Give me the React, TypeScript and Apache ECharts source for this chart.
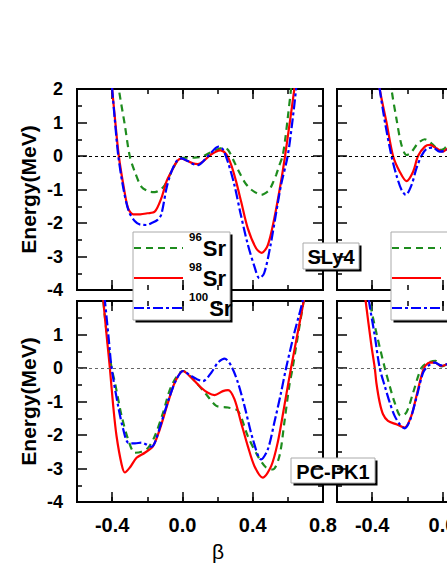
import { useEffect, useRef } from "react";
import * as echarts from "echarts";

const FONT = 'Arial, "Liberation Sans", Helvetica, sans-serif';

// [beta, energy], one list per nucleus and panel
const sly4Left96 = [[-0.375, 2.6], [-0.362, 2.0], [-0.328, 0.93], [-0.30, 0.0], [-0.271, -0.47], [-0.233, -0.92], [-0.19, -1.06], [-0.157, -1.08], [-0.125, -1.0], [-0.10, -0.87], [-0.063, -0.47], [-0.035, -0.2], [-0.01, -0.06], [0.03, -0.05], [0.07, -0.05], [0.11, -0.02], [0.15, 0.08], [0.19, 0.18], [0.23, 0.24], [0.26, 0.18], [0.296, -0.19], [0.325, -0.5], [0.353, -0.77], [0.38, -0.95], [0.41, -1.07], [0.448, -1.16], [0.475, -1.1], [0.495, -1.01], [0.515, -0.8], [0.533, -0.57], [0.55, -0.3], [0.57, 0.0], [0.585, 0.5], [0.599, 1.12], [0.618, 2.0], [0.63, 2.7]];
const sly4Left98 = [[-0.41, 2.6], [-0.40, 2.0], [-0.384, 1.12], [-0.362, 0.0], [-0.332, -0.99], [-0.309, -1.56], [-0.28, -1.74], [-0.24, -1.74], [-0.20, -1.71], [-0.157, -1.66], [-0.12, -1.26], [-0.09, -0.75], [-0.063, -0.47], [-0.03, -0.15], [-0.006, -0.08], [0.03, -0.15], [0.06, -0.22], [0.088, -0.24], [0.12, -0.15], [0.16, 0.03], [0.19, 0.13], [0.217, 0.17], [0.25, 0.05], [0.278, -0.27], [0.305, -0.75], [0.334, -1.36], [0.372, -2.16], [0.42, -2.76], [0.452, -2.89], [0.486, -2.66], [0.523, -1.86], [0.561, -0.77], [0.584, 0.0], [0.609, 0.93], [0.637, 2.0], [0.65, 2.6]];
const sly4Left100 = [[-0.41, 2.6], [-0.40, 2.0], [-0.385, 1.1], [-0.365, 0.0], [-0.335, -1.0], [-0.305, -1.65], [-0.27, -1.95], [-0.24, -2.05], [-0.205, -2.06], [-0.175, -2.0], [-0.14, -1.9], [-0.12, -1.74], [-0.09, -0.95], [-0.063, -0.47], [-0.03, -0.13], [-0.006, -0.07], [0.03, -0.15], [0.06, -0.24], [0.09, -0.27], [0.12, -0.15], [0.16, 0.08], [0.19, 0.24], [0.206, 0.28], [0.23, 0.2], [0.26, -0.2], [0.296, -0.87], [0.33, -1.7], [0.37, -2.6], [0.41, -3.3], [0.438, -3.65], [0.465, -3.5], [0.50, -2.7], [0.53, -1.8], [0.561, -0.87], [0.599, 0.0], [0.625, 1.0], [0.647, 2.0], [0.66, 2.6]];

const sly4Right96 = [[-0.30, 2.6], [-0.29, 2.0], [-0.262, 1.12], [-0.233, 0.33], [-0.205, 0.03], [-0.185, 0.07], [-0.167, 0.18], [-0.139, 0.38], [-0.10, 0.5], [-0.063, 0.38], [-0.016, 0.18], [0.005, 0.2], [0.024, 0.28], [0.06, 0.35], [0.1, 0.3]];
const sly4Right98 = [[-0.37, 2.6], [-0.357, 2.0], [-0.319, 1.02], [-0.281, 0.0], [-0.243, -0.47], [-0.205, -0.75], [-0.167, -0.47], [-0.139, 0.0], [-0.10, 0.28], [-0.072, 0.33], [-0.034, 0.23], [0.003, 0.13], [0.024, 0.2], [0.06, 0.3], [0.1, 0.28]];
const sly4Right100 = [[-0.37, 2.6], [-0.357, 2.0], [-0.325, 0.95], [-0.29, 0.0], [-0.262, -0.57], [-0.233, -1.01], [-0.209, -1.16], [-0.176, -0.87], [-0.148, -0.37], [-0.12, 0.0], [-0.091, 0.21], [-0.054, 0.25], [-0.016, 0.13], [0.024, 0.17], [0.06, 0.27], [0.1, 0.27]];

const pcLeft96 = [[-0.46, 2.7], [-0.45, 2.0], [-0.428, 0.9], [-0.403, 0.0], [-0.384, -0.44], [-0.346, -1.43], [-0.309, -2.13], [-0.271, -2.53], [-0.233, -2.5], [-0.195, -2.38], [-0.157, -2.03], [-0.11, -1.33], [-0.063, -0.54], [0.003, -0.09], [0.07, -0.39], [0.136, -0.79], [0.193, -1.13], [0.259, -1.18], [0.316, -1.28], [0.372, -2.03], [0.429, -2.63], [0.476, -2.97], [0.514, -3.03], [0.552, -2.63], [0.58, -1.63], [0.608, -0.54], [0.627, 0.0], [0.656, 0.93], [0.69, 2.0], [0.70, 2.4]];
const pcLeft98 = [[-0.46, 2.7], [-0.45, 2.0], [-0.43, 0.9], [-0.413, 0.0], [-0.394, -1.13], [-0.375, -2.03], [-0.346, -2.88], [-0.328, -3.12], [-0.299, -2.97], [-0.261, -2.68], [-0.214, -2.53], [-0.167, -2.33], [-0.129, -1.83], [-0.082, -1.03], [-0.044, -0.44], [0.003, -0.09], [0.051, -0.29], [0.107, -0.59], [0.145, -0.74], [0.183, -0.81], [0.23, -0.69], [0.26, -0.66], [0.296, -0.93], [0.334, -1.63], [0.372, -2.33], [0.41, -2.93], [0.457, -3.27], [0.505, -2.93], [0.542, -2.23], [0.58, -1.13], [0.618, 0.0], [0.656, 1.05], [0.69, 2.0], [0.70, 2.4]];
const pcLeft100 = [[-0.455, 2.7], [-0.441, 2.0], [-0.42, 0.9], [-0.403, 0.0], [-0.366, -1.13], [-0.337, -1.83], [-0.309, -2.23], [-0.27, -2.25], [-0.233, -2.23], [-0.176, -2.35], [-0.157, -2.23], [-0.12, -1.63], [-0.072, -0.84], [-0.034, -0.34], [0.003, -0.09], [0.05, -0.24], [0.085, -0.34], [0.117, -0.39], [0.164, -0.14], [0.202, 0.16], [0.24, 0.28], [0.278, 0.06], [0.316, -0.44], [0.353, -1.13], [0.401, -2.13], [0.448, -2.73], [0.486, -2.43], [0.523, -1.63], [0.561, -0.74], [0.59, 0.0], [0.637, 1.05], [0.684, 2.0], [0.695, 2.4]];

const pcRight96 = [[-0.425, 2.6], [-0.414, 2.0], [-0.376, 1.05], [-0.328, 0.0], [-0.30, -0.54], [-0.272, -1.03], [-0.237, -1.43], [-0.205, -1.33], [-0.167, -0.74], [-0.12, 0.0], [-0.082, 0.16], [-0.038, 0.21], [-0.006, 0.05], [0.024, 0.11], [0.06, 0.2], [0.1, 0.2]];
const pcRight98 = [[-0.45, 2.6], [-0.437, 2.0], [-0.404, 0.66], [-0.385, 0.0], [-0.376, -0.44], [-0.357, -1.03], [-0.338, -1.38], [-0.31, -1.58], [-0.262, -1.68], [-0.215, -1.78], [-0.177, -1.43], [-0.148, -0.84], [-0.105, 0.0], [-0.072, 0.16], [-0.044, 0.16], [-0.006, 0.06], [0.024, 0.11], [0.06, 0.2], [0.1, 0.2]];
const pcRight100 = [[-0.43, 2.6], [-0.418, 2.0], [-0.385, 0.96], [-0.357, 0.0], [-0.328, -0.54], [-0.30, -1.03], [-0.272, -1.43], [-0.243, -1.68], [-0.215, -1.8], [-0.186, -1.58], [-0.148, -0.89], [-0.11, -0.14], [-0.082, 0.06], [-0.044, 0.16], [-0.006, 0.08], [0.024, 0.11], [0.06, 0.2], [0.1, 0.2]];

const nuclei = ["96", "98", "100"];
const colors = ["#1e8c1e", "#ff0000", "#0000ff"];
const dashes: (number[] | "solid")[] = [[7, 5], "solid", [10, 3, 3, 3]];

const panels = [
  { curves: [sly4Left96, sly4Left98, sly4Left100], zero: "#000" },
  { curves: [sly4Right96, sly4Right98, sly4Right100], zero: "#000" },
  { curves: [pcLeft96, pcLeft98, pcLeft100], zero: "#666" },
  { curves: [pcRight96, pcRight98, pcRight100], zero: "#666" },
];

const xLabelValues = [-0.4, 0, 0.4, 0.8];
const gridBoxes = [
  { left: 77, top: 89 },
  { left: 337, top: 89 },
  { left: 77, top: 301 },
  { left: 337, top: 301 },
];

const tickStyle = { color: "#000", width: 1.5 };

function boxedText(x: number, y: number, w: number, h: number, text: string) {
  return {
    type: "group",
    z: 100,
    children: [
      { type: "rect", shape: { x: x + 2.5, y: y + 2.5, width: w, height: h }, style: { fill: "#000" } },
      { type: "rect", shape: { x, y, width: w, height: h }, style: { fill: "#fff", stroke: "#aaa", lineWidth: 1 } },
      {
        type: "text",
        x: x + w / 2,
        y: y + h / 2 + 1,
        style: { text, fill: "#000", font: `bold 20px ${FONT}`, align: "center", verticalAlign: "middle" },
      },
    ],
  };
}

function legendBox(x0: number) {
  const rows = [248, 278, 308];
  const children: any[] = [
    { type: "rect", shape: { x: x0 + 2.5, y: 234.5, width: 97, height: 88 }, style: { fill: "#000" } },
    { type: "rect", shape: { x: x0, y: 232, width: 97, height: 88 }, style: { fill: "#fff", stroke: "#aaa", lineWidth: 1 } },
  ];
  nuclei.forEach((n, i) => {
    const y = rows[i];
    const supW = n.length * 6.4 + 1;
    children.push({
      type: "line",
      shape: { x1: x0 + 1, y1: y, x2: x0 + 50, y2: y },
      style: { stroke: colors[i], lineWidth: 2.2, lineDash: dashes[i] === "solid" ? null : dashes[i] },
    });
    children.push({
      type: "text",
      x: x0 + 56,
      y: y - 11,
      style: { text: n, fill: "#000", font: `bold 11.5px ${FONT}`, align: "left", verticalAlign: "middle" },
    });
    children.push({
      type: "text",
      x: x0 + 56 + supW,
      y: y,
      style: { text: "Sr", fill: "#000", font: `bold 22px ${FONT}`, align: "left", verticalAlign: "middle" },
    });
  });
  return { type: "group", z: 100, children };
}

export default function App() {
  const ref = useRef<HTMLDivElement>(null);

  useEffect(() => {
    if (!ref.current) return;
    const chart = echarts.init(ref.current, null, { renderer: "svg" });

    const xAxis: any[] = [];
    const yAxis: any[] = [];
    gridBoxes.forEach((_, g) => {
      const showX = g >= 2;
      const showY = g % 2 === 0;
      const xBase = {
        gridIndex: g,
        type: "value",
        min: -0.6,
        max: 0.8,
        interval: 0.2,
        axisLine: { show: false, onZero: false },
        splitLine: { show: false },
      };
      (["bottom", "top"] as const).forEach((pos) => {
        xAxis.push({
          ...xBase,
          position: pos,
          axisTick: { inside: true, length: 5, lineStyle: tickStyle },
          axisLabel:
            pos === "bottom" && showX
              ? {
                  margin: 13,
                  color: "#000",
                  fontFamily: FONT,
                  fontWeight: "bold",
                  fontSize: 20,
                  formatter: (v: number) => {
                    const k = Math.round(v * 10);
                    return xLabelValues.some((t) => Math.round(t * 10) === k) ? (k / 10).toFixed(1) : "";
                  },
                }
              : { show: false },
        });
        xAxis.push({
          ...xBase,
          position: pos,
          axisTick: { inside: true, length: 10, lineStyle: tickStyle, customValues: xLabelValues },
          axisLabel: { show: false },
        });
      });
      (["left", "right"] as const).forEach((pos) => {
        const main = pos === "left";
        yAxis.push({
          gridIndex: g,
          type: "value",
          position: pos,
          min: -4,
          max: 2,
          interval: 1,
          axisLine: { show: false, onZero: false },
          splitLine: { show: false },
          axisTick: { inside: true, length: 10, lineStyle: tickStyle },
          minorTick: { show: true, splitNumber: 2, length: 5, lineStyle: tickStyle },
          axisLabel:
            main && showY
              ? {
                  margin: 14,
                  color: "#000",
                  fontFamily: FONT,
                  fontWeight: "bold",
                  fontSize: 18,
                  formatter: (v: number) => (g === 2 && v === 2 ? "" : String(v)),
                }
              : { show: false },
          name: main && showY ? "Energy(MeV)" : "",
          nameLocation: "middle",
          nameGap: 38,
          nameTextStyle: { color: "#000", fontFamily: FONT, fontWeight: "bold", fontSize: 21 },
        });
      });
    });

    const series: any[] = [];
    panels.forEach((p, g) => {
      p.curves.forEach((data, i) => {
        series.push({
          type: "line",
          name: nuclei[i] + "Sr",
          xAxisIndex: g * 4,
          yAxisIndex: g * 2,
          data,
          smooth: 0.3,
          showSymbol: false,
          clip: true,
          lineStyle: { color: colors[i], width: 2.2, type: dashes[i] },
          markLine:
            i === 0
              ? {
                  silent: true,
                  symbol: ["none", "none"],
                  label: { show: false },
                  lineStyle: { color: p.zero, width: 1, type: [3, 3] },
                  data: [{ yAxis: 0 }],
                }
              : undefined,
        });
      });
    });

    chart.setOption({
      animation: false,
      backgroundColor: "#fff",
      grid: gridBoxes.map((b) => ({
        left: b.left,
        top: b.top,
        width: 246,
        height: 201,
        show: true,
        borderColor: "#000",
        borderWidth: 2,
        backgroundColor: "transparent",
      })),
      xAxis,
      yAxis,
      series,
      graphic: [
        legendBox(133),
        legendBox(391),
        boxedText(303, 243, 56, 26, "SLy4"),
        boxedText(291, 458, 84, 25, "PC-PK1"),
        {
          type: "text",
          x: 218,
          y: 551,
          style: { text: "β", fill: "#000", font: `21px ${FONT}`, align: "center", verticalAlign: "middle" },
        },
      ],
    });
    return () => chart.dispose();
  }, []);

  return (
    <div style={{ position: "absolute", left: 0, top: 0, width: 447, height: 578, overflow: "hidden" }}>
      <div ref={ref} style={{ width: 600, height: 578 }} />
    </div>
  );
}
